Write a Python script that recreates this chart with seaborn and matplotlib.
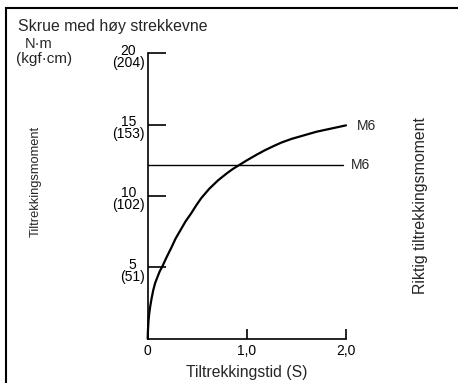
import matplotlib
matplotlib.use("Agg")
import matplotlib.pyplot as plt
import matplotlib.transforms as mtransforms
from matplotlib.patches import Rectangle
import pandas as pd
import seaborn as sns

# Tightening torque curve (M6, high tensile screw)
time_s = [0, 0.002, 0.008, 0.016, 0.025, 0.04, 0.056, 0.075, 0.1, 0.12, 0.15,
          0.19, 0.24, 0.28, 0.33, 0.38, 0.44, 0.49, 0.54, 0.62, 0.71, 0.8,
          0.86, 0.93, 1.0, 1.1, 1.18, 1.27, 1.35, 1.45, 1.6, 1.7, 1.8, 1.9, 2.0]
torque_nm = [0, 0.5, 1.25, 1.8, 2.25, 2.85, 3.4, 3.9, 4.35, 4.7, 5.1,
             5.7, 6.4, 7.0, 7.6, 8.2, 8.8, 9.35, 9.85, 10.5, 11.1, 11.6,
             11.9, 12.2, 12.5, 12.9, 13.2, 13.5, 13.75, 14.0, 14.3, 14.5,
             14.65, 14.8, 14.95]

# Correct tightening torque (M6)
correct_t = [0, 1.97]
correct_nm = [12.2, 12.2]

y_ticks = [5, 10, 15, 20]
y_tick_labels = ["5\n(51)", "10\n(102)", "15\n(153)", "20\n(204)"]
x_ticks = [0, 1.0, 2.0]
x_tick_labels = ["0", "1,0", "2,0"]

sns.set_theme(style="white")
plt.rcParams["font.family"] = ["Liberation Sans", "DejaVu Sans"]

W, H = 458, 383
fig = plt.figure(figsize=(W / 100, H / 100), dpi=100)
fig.patch.set_facecolor("white")

x0, x1 = 147.7, 346.0
y0, y1 = 338.7, 53.3
ax = fig.add_axes([x0 / W, (H - y0) / H, (x1 - x0) / W, (y0 - y1) / H])
ax.set_facecolor("none")

curve = pd.DataFrame({"t": time_s, "torque": torque_nm})
correct = pd.DataFrame({"t": correct_t, "torque": correct_nm})

sns.lineplot(data=curve, x="t", y="torque", ax=ax, color="black",
             linewidth=1.6, sort=False, estimator=None, clip_on=False)
sns.lineplot(data=correct, x="t", y="torque", ax=ax, color="black",
             linewidth=1.0, sort=False, estimator=None, clip_on=False)

ax.set_xlim(0, 2.0)
ax.set_ylim(0, 20)

for side in ("top", "right"):
    ax.spines[side].set_visible(False)
for side in ("left", "bottom"):
    ax.spines[side].set_color("black")
    ax.spines[side].set_linewidth(1.2)

ax.set_yticks(y_ticks)
ax.set_yticklabels(y_tick_labels, fontsize=10, linespacing=0.8,
                   multialignment="center")
ax.set_xticks(x_ticks)
ax.set_xticklabels(x_tick_labels, fontsize=10)
ax.tick_params(axis="y", direction="in", length=13, width=1.2, pad=2,
               color="black", labelcolor="black", left=True)
ax.tick_params(axis="x", direction="in", length=7.5, width=1.2, pad=4,
               color="black", labelcolor="black", bottom=True)

# shift two-line y labels slightly below their ticks
offset = mtransforms.ScaledTranslation(0, -3 / 100, fig.dpi_scale_trans)
for lbl in ax.get_yticklabels():
    lbl.set_transform(lbl.get_transform() + offset)

ax.set_xlabel("")
ax.set_ylabel("")

# curve end labels
ax.text(357, H - 126, "M6", transform=None, fontsize=10, va="center", ha="left")
ax.text(351, H - 165, "M6", transform=None, fontsize=10, va="center", ha="left")

fig.text(247 / W, 1 - 372 / H, "Tiltrekkingstid (S)", ha="center", va="center",
         fontsize=11.3)
fig.text(36 / W, 1 - 181 / H, "Tiltrekkingsmoment", ha="center", va="center",
         rotation=90, fontsize=9.3)
fig.text(420 / W, 1 - 206 / H, "Riktig tiltrekkingsmoment", ha="center",
         va="center", rotation=90, fontsize=11.4)
fig.text(18 / W, 1 - 27 / H, "Skrue med høy strekkevne", ha="left",
         va="center", fontsize=11.4)
fig.text(39 / W, 1 - 44 / H, "N·m", ha="center", va="center", fontsize=10.5)
fig.text(44 / W, 1 - 59 / H, "(kgf·cm)", ha="center", va="center", fontsize=11)

# outer frame
fig.patches.append(Rectangle((6 / W, -0.2), 1.5, 0.2 + (H - 7.5) / H,
                             transform=fig.transFigure, fill=False,
                             edgecolor="black", linewidth=1.5, zorder=0))

fig.savefig("out.png", dpi=100, facecolor="white")
